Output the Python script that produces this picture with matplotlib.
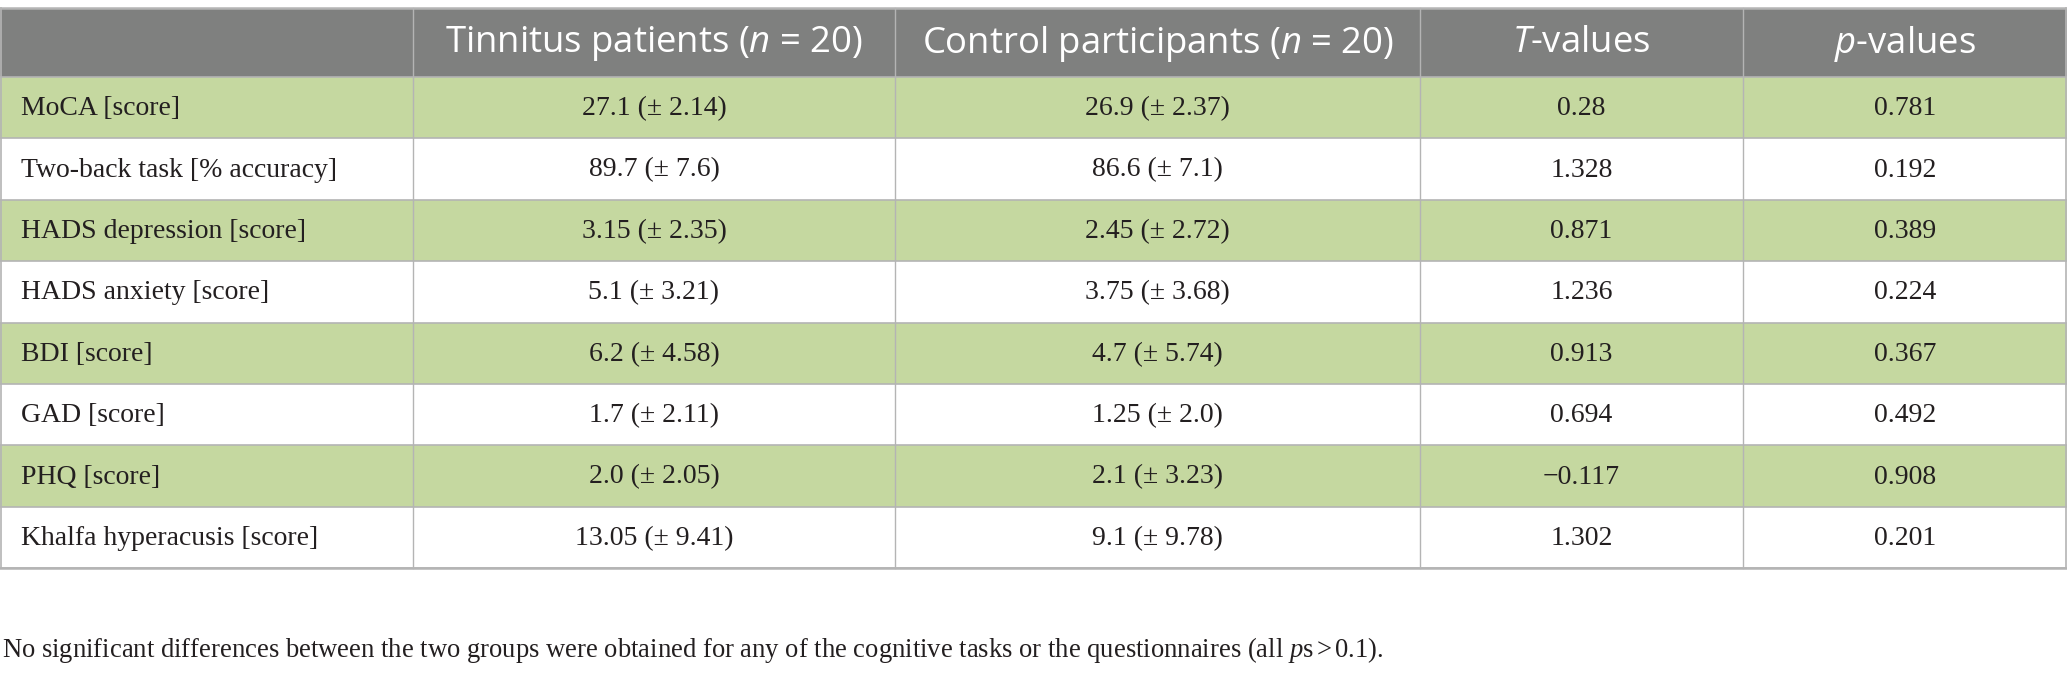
import matplotlib
matplotlib.use("Agg")
import matplotlib.pyplot as plt
from matplotlib.patches import Rectangle

# table content
measures = ["MoCA [score]", "Two-back task [% accuracy]", "HADS depression [score]",
            "HADS anxiety [score]", "BDI [score]", "GAD [score]", "PHQ [score]",
            "Khalfa hyperacusis [score]"]
tinnitus_mean = ["27.1", "89.7", "3.15", "5.1", "6.2", "1.7", "2.0", "13.05"]
tinnitus_sd = ["2.14", "7.6", "2.35", "3.21", "4.58", "2.11", "2.05", "9.41"]
control_mean = ["26.9", "86.6", "2.45", "3.75", "4.7", "1.25", "2.1", "9.1"]
control_sd = ["2.37", "7.1", "2.72", "3.68", "5.74", "2.0", "3.23", "9.78"]
t_values = ["0.28", "1.328", "0.871", "1.236", "0.913", "0.694", "\u22120.117", "1.302"]
p_values = ["0.781", "0.192", "0.389", "0.224", "0.367", "0.492", "0.908", "0.201"]
headers = ["", r"Tinnitus patients ($\mathsf{n}$ = 20)",
           r"Control participants ($\mathsf{n}$ = 20)",
           r"$\mathsf{T}$-values", r"$\mathsf{p}$-values"]
note = (r"No significant differences between the two groups were obtained for any of "
        r"the cognitive tasks or the questionnaires (all $p$s$\,$>$\,$0.1).")

plt.rcParams["mathtext.fontset"] = "custom"
plt.rcParams["mathtext.sf"] = "Open Sans:italic"
plt.rcParams["mathtext.it"] = "Liberation Serif:italic"
plt.rcParams["mathtext.rm"] = "Liberation Serif"

W, H = 2067, 675
fig = plt.figure(figsize=(W / 100, H / 100), dpi=100)
ax = fig.add_axes([0, 0, 1, 1])
ax.set_xlim(0, W)
ax.set_ylim(H, 0)
ax.axis("off")

col_edges = [0, 413, 895, 1420, 1743, W]
top, head_h, row_h = 8, 69, 61.4
gray, green, line = "#7f807f", "#c5d8a0", "#b4b4b4"
ink = "#231f20"

# header
ax.add_patch(Rectangle((0, top), W, head_h, color=gray, lw=0))
for j, h in enumerate(headers):
    cx = (col_edges[j] + col_edges[j + 1]) / 2
    ax.text(cx, top + head_h / 2 + 1, h, ha="center", va="center", color="white",
            fontsize=26.3, family="Open Sans")

# body rows
y0 = top + head_h
for i, m in enumerate(measures):
    y = y0 + i * row_h
    if i % 2 == 0:
        ax.add_patch(Rectangle((0, y), W, row_h, color=green, lw=0))
    cells = [m,
             f"{tinnitus_mean[i]} (\u00b1 {tinnitus_sd[i]})",
             f"{control_mean[i]} (\u00b1 {control_sd[i]})",
             t_values[i], p_values[i]]
    for j, c in enumerate(cells):
        if j == 0:
            x, ha = col_edges[0] + 21, "left"
        else:
            x, ha = (col_edges[j] + col_edges[j + 1]) / 2, "center"
        ax.text(x, y + row_h / 2 + 1, c, ha=ha, va="center", color=ink,
                fontsize=20, family="Liberation Serif")

bottom = y0 + len(measures) * row_h
# grid lines
for k in range(len(measures) + 1):
    yy = y0 + k * row_h
    ax.plot([0, W], [yy, yy], color=line, lw=1.2, solid_capstyle="butt")
for xe in col_edges[1:-1]:
    ax.plot([xe, xe], [top, bottom], color=line, lw=1.0)
ax.plot([0, W], [top, top], color=line, lw=1.8)
ax.plot([0, W], [bottom, bottom], color=line, lw=1.8)
ax.plot([0.7, 0.7], [top, bottom], color=line, lw=1.2)
ax.plot([W - 0.7, W - 0.7], [top, bottom], color=line, lw=1.2)

ax.text(2, 657, note, ha="left", va="baseline", color=ink, fontsize=19.2,
        family="Liberation Serif")

fig.savefig("out.png", dpi=100)
